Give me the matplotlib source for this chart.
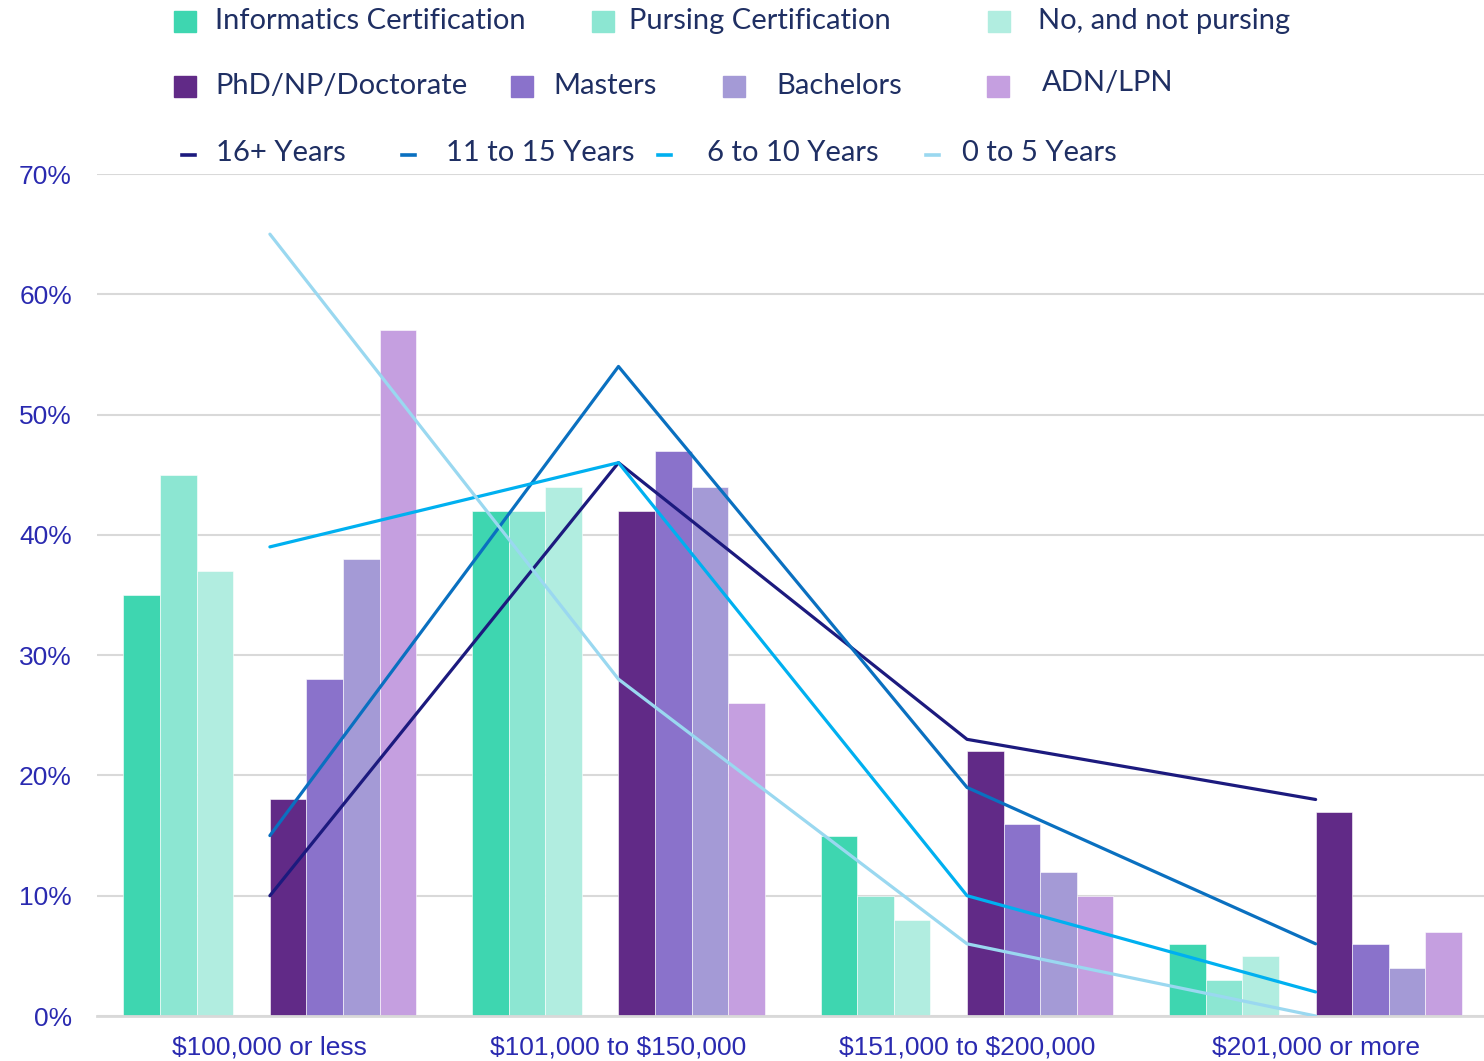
import numpy as np
import matplotlib.pyplot as plt
from matplotlib.patches import Rectangle
from matplotlib.lines import Line2D

plt.rcParams['text.parse_math'] = False  # dollar signs in labels are plain text

# data
categories = ['$100,000 or less', '$101,000 to $150,000', '$151,000 to $200,000', '$201,000 or more']

cert_names = ['Informatics Certification', 'Pursing Certification', 'No, and not pursing']
informatics = [35, 42, 15, 6]
pursing = [45, 42, 10, 3]
not_pursing = [37, 44, 8, 5]

degree_names = ['PhD/NP/Doctorate', 'Masters', 'Bachelors', 'ADN/LPN']
phd = [18, 42, 22, 17]
masters = [28, 47, 16, 6]
bachelors = [38, 44, 12, 4]
adn = [57, 26, 10, 7]

year_names = ['16+ Years', '11 to 15 Years', '6 to 10 Years', '0 to 5 Years']
y16 = [10, 46, 23, 18]
y11 = [15, 54, 19, 6]
y6 = [39, 46, 10, 2]
y0 = [65, 28, 6, 0]

# styles
cert_colors = ['#3ed6b0', '#8ce6d2', '#b1ede0']
degree_colors = ['#612a87', '#8a72cb', '#a49ad6', '#c59fe0']
year_colors = ['#1c1a7e', '#0a70c0', '#00b0f0', '#9ad8f0']
tick_color = '#2a2ab0'
legend_text_color = '#1f2f63'
grid_color = '#d9d9d9'

fig = plt.figure(figsize=(14.84, 10.61), dpi=100)
ax = fig.add_axes([97 / 1484, 1 - 1016 / 1061, 1 - 97 / 1484, (1016 - 174) / 1061])

x = np.arange(len(categories))
w = 0.105

cert_series = [informatics, pursing, not_pursing]
for i, (vals, col) in enumerate(zip(cert_series, cert_colors)):
    ax.bar(x - 4 * w + i * w, vals, width=w, align='edge', color=col,
           edgecolor='white', linewidth=0.4, zorder=2)

degree_series = [phd, masters, bachelors, adn]
for i, (vals, col) in enumerate(zip(degree_series, degree_colors)):
    ax.bar(x + i * w, vals, width=w, align='edge', color=col,
           edgecolor='white', linewidth=0.4, zorder=2)

year_series = [y16, y11, y6, y0]
for vals, col in zip(year_series, year_colors):
    ax.plot(x, vals, color=col, linewidth=2.3, zorder=3, solid_capstyle='round')

ax.set_xlim(-0.496, 3.483)
ax.set_ylim(0, 70)
ax.set_yticks(range(0, 71, 10))
ax.set_yticklabels([f'{v}%' for v in range(0, 71, 10)])
ax.set_xticks(x)
ax.set_xticklabels(categories)
ax.grid(axis='y', color=grid_color, linewidth=1.5, zorder=0)
ax.set_axisbelow(True)
for s in ['top', 'right', 'left']:
    ax.spines[s].set_visible(False)
ax.spines['bottom'].set_color(grid_color)
ax.spines['bottom'].set_linewidth(2)
ax.tick_params(axis='both', length=0, labelcolor=tick_color, labelsize=19)
ax.tick_params(axis='y', pad=18)
ax.tick_params(axis='x', pad=14)
for lab in ax.get_xticklabels() + ax.get_yticklabels():
    lab.set_fontfamily('Liberation Sans')

# legend, placed by hand (pixel positions in the figure)
def fx(px):
    return px / 1484

def fy(py):
    return 1 - py / 1061

leg_font = dict(fontsize=21, color=legend_text_color, family='Lato', va='center')

sq_x = [174, 592, 988]
txt_x = [215, 629, 1038]
for name, col, sx, tx in zip(cert_names, cert_colors, sq_x, txt_x):
    fig.add_artist(Rectangle((fx(sx), fy(32)), fx(22), 21 / 1061, color=col,
                             transform=fig.transFigure))
    fig.text(fx(tx), fy(21), name, **leg_font)

sq_x = [174, 511, 723, 987]
txt_x = [215, 553, 776, 1042]
txt_y = [86, 86, 86, 83]
for name, col, sx, tx, ty in zip(degree_names, degree_colors, sq_x, txt_x, txt_y):
    fig.add_artist(Rectangle((fx(sx), fy(97)), fx(22), 21 / 1061, color=col,
                             transform=fig.transFigure))
    fig.text(fx(tx), fy(ty), name, **leg_font)

dash_x = [182, 402, 658, 926]
txt_x = [216, 446, 707, 962]
for name, col, dx, tx in zip(year_names, year_colors, dash_x, txt_x):
    fig.add_artist(Line2D([fx(dx), fx(dx + 13)], [fy(155), fy(155)], color=col,
                          linewidth=2.6, transform=fig.transFigure))
    fig.text(fx(tx), fy(153), name, **leg_font)

fig.savefig('out.png', dpi=100)
